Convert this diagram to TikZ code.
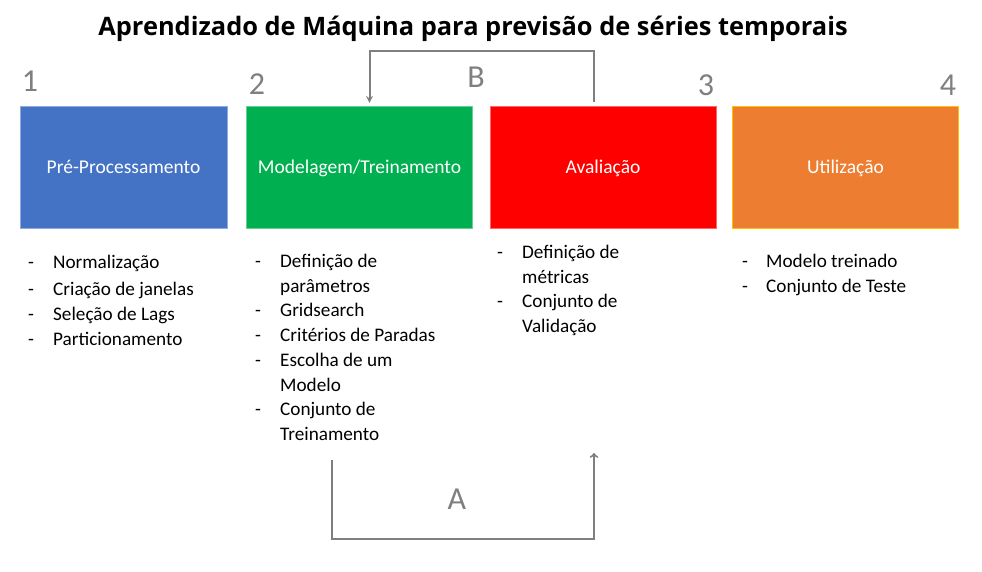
\documentclass[tikz,border=0pt]{standalone}
\usepackage{fontspec}
\setmainfont{Carlito}
\newfontfamily\titlefont{Open Sans}
\definecolor{StageBlue}{HTML}{4472C4}
\definecolor{StageGreen}{HTML}{00B050}
\definecolor{StageRed}{HTML}{FF0000}
\definecolor{StageOrange}{HTML}{ED7D31}
\definecolor{StageGold}{HTML}{FFC000}
\definecolor{LoopGray}{HTML}{7F7F7F}

\begin{document}
\begin{tikzpicture}[x=1pt, y=-1pt, >=stealth,
    stage/.style={minimum width=226pt, minimum height=122pt, inner sep=0pt,
      text height=18pt, text depth=5pt,
      text=white, font=\fontsize{19.5}{22}\selectfont},
    stepnum/.style={text=LoopGray, font=\fontsize{32}{34}\selectfont},
    items/.style={anchor=base west, inner sep=0pt,
      font=\fontsize{19.2}{24.7}\selectfont},
    loopline/.style={draw=LoopGray, line width=2pt}]
  \useasboundingbox (0,0) rectangle (982,572);

  \node[font=\titlefont\bfseries\fontsize{25.4}{28}\selectfont] (title) at (473,29)
    {Aprendizado de Máquina para previsão de séries temporais};

  % etapas
  \node[stage, fill=StageBlue, draw=StageBlue!60, minimum width=207pt] (pre) at (123.5,167)
    {Pré-Processamento};
  \node[stage, fill=StageGreen, draw=StageGreen!60] (mod) at (359.5,167)
    {Modelagem/Treinamento};
  \node[stage, fill=StageRed, draw=StageRed!60] (ava) at (603,167) {Avaliação};
  \node[stage, fill=StageOrange, draw=StageGold] (uti) at (845.5,167) {Utilização};

  \node[stepnum] (n1) at (30,81) {1};
  \node[stepnum] (n2) at (257,84) {2};
  \node[stepnum] (n3) at (706,85) {3};
  \node[stepnum] (n4) at (948,85) {4};

  % itens de cada etapa
  \node[items] (l1) at (28,268) {\begin{tabular}[t]{@{}p{25pt}@{}l@{}}
      - & Normalização\\[3pt]
      - & Criação de janelas\\
      - & Seleção de Lags\\
      - & Particionamento
    \end{tabular}};
  \node[items] (l2) at (255,267.5) {\begin{tabular}[t]{@{}p{25pt}@{}l@{}}
      - & Definição de\\
        & parâmetros\\
      - & Gridsearch\\
      - & Critérios de Paradas\\
      - & Escolha de um\\
        & Modelo\\
      - & Conjunto de\\
        & Treinamento
    \end{tabular}};
  \node[items] (l3) at (497,258.5) {\begin{tabular}[t]{@{}p{25pt}@{}l@{}}
      - & Definição de\\
        & métricas\\
      - & Conjunto de\\
        & Validação
    \end{tabular}};
  \node[items] (l4) at (742,267.5) {\begin{tabular}[t]{@{}p{24pt}@{}l@{}}
      - & Modelo treinado\\
      - & Conjunto de Teste
    \end{tabular}};

  % ciclos A e B
  \draw[loopline,->] ([xshift=-9pt,yshift=4pt]ava.north) -- ++(0,-51) -| ([xshift=10pt,yshift=3pt]mod.north);
  \node[stepnum] (labB) at (476,77) {B};

  \coordinate (aS) at (332,460);
  \coordinate (aE) at (594,453);
  \draw[loopline,-to] (aS) -- ++(0,79) -| (aE);
  \node[stepnum] (labA) at (457,499) {A};
\end{tikzpicture}
\end{document}
